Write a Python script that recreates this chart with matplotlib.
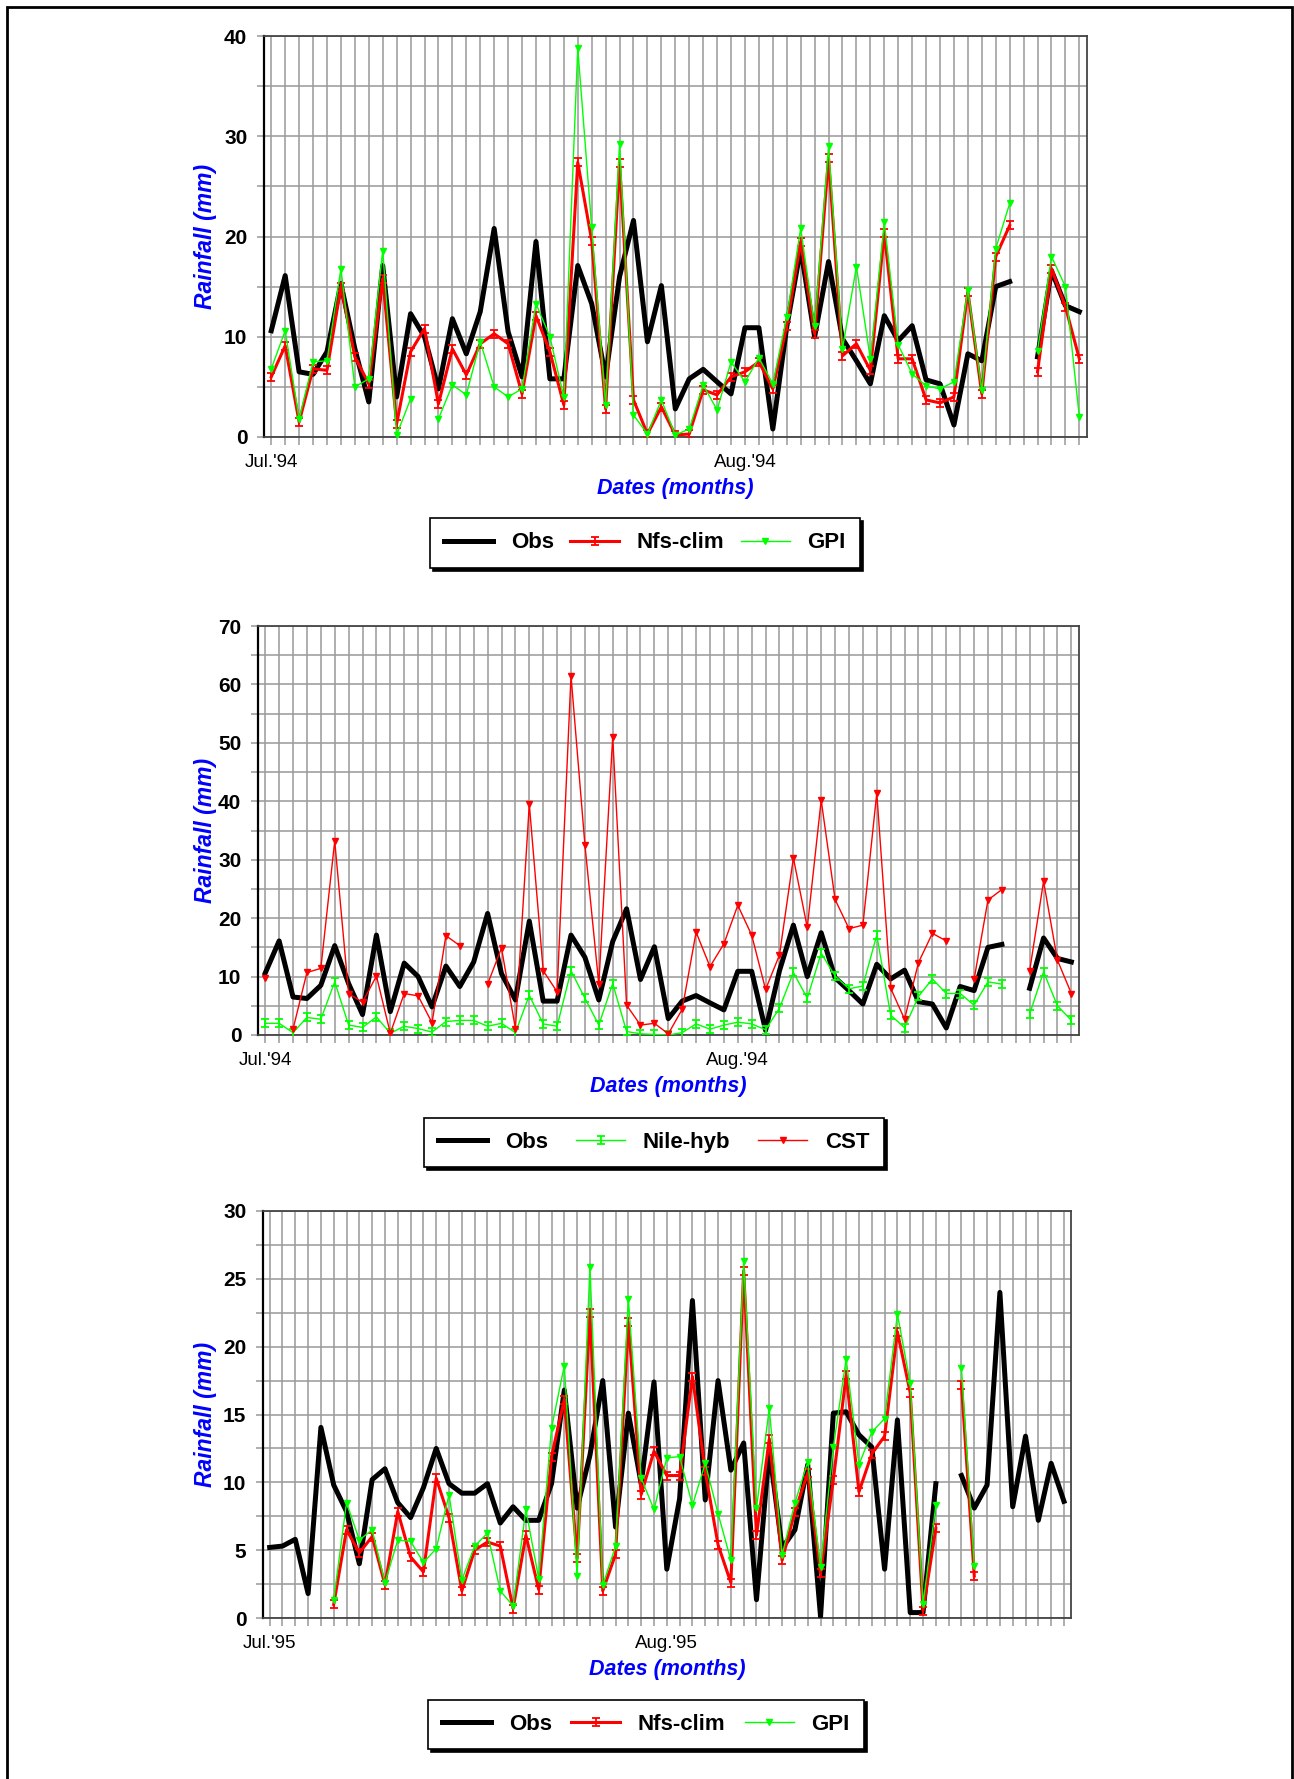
import numpy as np
import matplotlib
matplotlib.use('Agg')
import matplotlib.pyplot as plt
from matplotlib.path import Path
from matplotlib.patches import Rectangle
from matplotlib.ticker import MultipleLocator

nan = np.nan

# daily rainfall, July-August 1994 (59 days shown)
obs94 = [10.6, 16.1, 6.5, 6.25, 8.5, 15.3, 8.8, 3.5, 17.1, 4.0,
         12.3, 10.0, 4.8, 11.8, 8.3, 12.5, 20.8, 10.5, 6.0, 19.5,
         5.8, 5.8, 17.1, 13.3, 6.0, 16.0, 21.6, 9.5, 15.1, 2.8,
         5.8, 6.75, 5.5, 4.3, 10.9, 10.9, 0.8, 11.0, 18.8, 10.0,
         17.5, 9.8, 7.6, 5.3, 12.1, 9.6, 11.1, 5.7, 5.3, 1.2,
         8.3, 7.6, 15.0, 15.5, nan, 8.0, 16.6, 13.1, 12.5]
nfs94 = [6.0, 9.1, 1.5, 6.8, 6.65, 15.0, 8.0, 5.3, 15.8, 1.3,
         8.5, 10.8, 3.3, 8.8, 6.2, 9.3, 10.3, 9.3, 4.3, 12.1,
         8.5, 3.2, 27.4, 19.6, 2.8, 27.3, 3.7, 0.3, 3.0, 0.2,
         0.3, 4.7, 4.2, 6.0, 6.5, 7.5, 4.8, 11.1, 19.5, 10.3,
         27.8, 8.1, 9.3, 6.65, 20.3, 7.8, 7.8, 3.7, 3.4, 4.0,
         14.5, 4.3, 18.0, 21.1, nan, 6.5, 16.8, 13.0, 7.8]
gpi94 = [6.8, 10.6, 1.8, 7.5, 7.6, 16.8, 5.0, 5.8, 18.6, 0.2,
         3.8, nan, 1.8, 5.2, 4.2, 9.5, 5.0, 4.0, 4.8, 13.3,
         10.0, 4.0, 38.8, 20.9, 3.2, 29.2, 2.2, 0.3, 3.7, 0.2,
         0.8, 5.2, 2.7, 7.5, 5.5, 7.9, 5.3, 12.0, 20.8, 11.1,
         29.0, 8.8, 17.0, 7.8, 21.4, 9.2, 6.3, 5.1, 4.8, 5.5,
         14.7, 4.65, 18.8, 23.3, nan, 8.6, 18.0, 15.0, 2.0]
nile94 = [2.0, 2.0, 0.4, 3.0, 2.7, 9.1, 1.7, 1.3, 3.1, 0.3,
          1.5, 1.1, 0.5, 2.3, 2.5, 2.5, 1.5, 2.0, 0.4, 6.8,
          1.9, 1.5, 11.0, 6.3, 1.7, 8.8, 0.6, 0.2, 0.1, 0.0,
          0.4, 1.9, 1.0, 1.7, 2.2, 1.9, 0.9, 4.6, 10.7, 6.3,
          14.0, 10.1, 7.9, 8.4, 17.1, 3.4, 1.25, 6.6, 9.6, 7.1,
          7.1, 5.1, 9.1, 8.7, nan, 3.6, 10.8, 5.0, 2.5]
cst94 = [9.7, nan, 1.0, 10.7, 11.4, 33.2, 7.1, 5.6, 10.1, 0.3,
         7.1, 6.7, 2.1, 17.0, 15.3, nan, 8.7, 14.9, 1.1, 39.5,
         11.0, 7.4, 61.5, 32.6, 8.7, 51.0, 5.1, 1.7, 2.0, 0.2,
         4.4, 17.6, 11.7, 15.6, 22.2, 17.1, 7.8, 13.7, 30.3, 18.4,
         40.2, 23.2, 18.2, 18.8, 41.4, 8.0, 2.7, 12.4, 17.4, 16.1,
         nan, 9.5, 23.1, 24.9, nan, 11.0, 26.3, 12.8, 7.1]

# July-August 1995 (63 days shown)
obs95 = [5.2, 5.3, 5.8, 1.8, 14.05, 9.8, 7.85, 4.0, 10.2, 11.0,
         8.5, 7.4, 9.6, 12.5, 9.9, 9.2, 9.2, 9.9, 7.0, 8.2,
         7.2, 7.2, 9.9, 16.8, 8.1, 12.0, 17.5, 6.7, 15.1, 9.9,
         17.4, 3.6, 8.8, 23.4, 8.7, 17.5, 10.9, 12.9, 1.35, 12.4,
         5.15, 6.5, 11.3, 0.1, 15.1, 15.2, 13.5, 12.6, 3.6, 14.6,
         0.4, 0.4, 9.9, nan, 10.5, 8.1, 9.8, 24.0, 8.2, 13.4,
         7.2, 11.4, 8.6]
nfs95 = [nan] * 5 + [
    1.0, 6.5, 4.8, 6.0, 2.45, 7.85, 4.5, 3.4, 10.3, 7.4,
    2.0, 5.0, 5.6, 5.3, 0.7, 6.1, 2.1, 11.9, 16.1, 4.4,
    22.5, 2.0, 4.7, 21.8, 9.1, 12.3, 10.5, 10.5, 17.8, 10.8,
    5.4, 2.6, 25.6, 6.1, 13.2, 4.25, 7.85, 10.7, 3.3, 10.2,
    17.9, 9.3, 12.1, 13.4, 21.1, 16.6, 0.55, 6.6, nan, 17.2, 3.1] + [nan] * 7
gpi95 = [nan] * 5 + [
    1.35, 8.5, 5.75, 6.5, 2.6, 5.75, 5.65, 4.1, 5.1, 9.1,
    2.8, 5.3, 6.25, 2.0, 0.9, 8.0, 2.9, 14.0, 18.6, 3.1,
    25.9, 2.4, 5.3, 23.5, 10.3, 8.0, 11.8, 11.9, 8.3, 11.4,
    7.7, 4.25, 26.3, 8.1, 15.45, 4.66, 8.5, 11.5, 3.75, 12.6,
    19.1, 11.3, 13.7, 14.7, 22.4, 17.3, 1.05, 8.3, nan, 18.4, 3.85] + [nan] * 7

month_ticks94 = {0: "Jul.'94", 34: "Aug.'94"}
month_ticks95 = {0: "Jul.'95", 31: "Aug.'95"}

W, H = 1294, 1779
FONT = ['Liberation Sans', 'DejaVu Sans']
plt.rcParams['font.family'] = FONT

# I-beam marker used for the Nfs-clim and Nile-hyb series
ibeam = Path([(-1, 1), (1, 1), (0, 1), (0, -1), (-1, -1), (1, -1)],
             [Path.MOVETO, Path.LINETO, Path.MOVETO, Path.LINETO,
              Path.MOVETO, Path.LINETO])

STYLES = {
    'Obs': dict(color='black', lw=3.6, zorder=3),
    'Nfs-clim': dict(color='#ff0000', lw=2.2, marker=ibeam, ms=6, mew=1.3,
                     mfc='none', zorder=4),
    'GPI': dict(color='#00ff00', lw=1.0, marker='v', ms=5, zorder=5),
    'Nile-hyb': dict(color='#00ff00', lw=1.0, marker=ibeam, ms=6, mew=1.3,
                     mfc='none', zorder=4),
    'CST': dict(color='#ff0000', lw=1.0, marker='v', ms=5, zorder=5),
}


def add_panel(fig, box, series, ymax, ylab_step, ygrid_step, ticks,
              legend_box):
    l, t, r, b = box
    ax = fig.add_axes([l / W, 1 - b / H, (r - l) / W, (b - t) / H])
    n = len(series[0][1])
    x = np.arange(n)
    handles = []
    for name, vals in series:
        line, = ax.plot(x, np.array(vals, dtype=float), label=name,
                        **STYLES[name])
        handles.append(line)

    ax.set_xlim(-0.52, n - 1 + 0.55)
    ax.set_ylim(0, ymax)
    ax.set_xticks(x)
    ax.set_xticklabels([ticks.get(i, '') for i in x], fontsize=13.5)
    ax.yaxis.set_major_locator(MultipleLocator(ylab_step))
    ax.yaxis.set_minor_locator(MultipleLocator(ygrid_step))
    for lab in ax.get_yticklabels():
        lab.set_fontweight('bold')
        lab.set_fontsize(15)
    ax.tick_params(axis='x', length=6, width=1.1, color='#999999', pad=6)
    ax.tick_params(axis='y', which='both', length=5, width=1.1,
                   color='#999999', pad=7)
    ax.set_axisbelow(True)
    ax.grid(True, which='both', color='#999999', lw=1.1)
    for side in ['top', 'right', 'bottom']:
        ax.spines[side].set_color('#444444')
        ax.spines[side].set_linewidth(1.3)
    ax.spines['left'].set_color('black')
    ax.spines['left'].set_linewidth(1.6)

    ax.set_ylabel('Rainfall (mm)', color='#0000ff', fontsize=16.5,
                  fontweight='bold', fontstyle='italic')
    ax.yaxis.set_label_coords((217 - l) / (r - l), 0.5)
    ax.set_xlabel('Dates (months)', color='#0000ff', fontsize=15.5,
                  fontweight='bold', fontstyle='italic')
    ax.xaxis.set_label_coords(0.5, -(41) / (b - t))

    x0, y0, x1, y1 = legend_box
    leg = fig.legend(handles, [h.get_label() for h in handles],
                     loc='center', mode='expand', ncol=3,
                     bbox_to_anchor=(x0 / W, 1 - y1 / H,
                                     (x1 - x0) / W, (y1 - y0) / H),
                     prop={'weight': 'bold', 'size': 16},
                     frameon=True, fancybox=False, framealpha=1,
                     edgecolor='black', numpoints=1, handlelength=2.2,
                     borderpad=0.65, borderaxespad=0,
                     shadow={'color': 'black', 'alpha': 1})
    leg.get_frame().set_linewidth(1.2)
    return ax


fig = plt.figure(figsize=(W / 100, H / 100), dpi=100)

add_panel(fig, (264, 36, 1087, 437),
          [('Obs', obs94), ('Nfs-clim', nfs94), ('GPI', gpi94)],
          40, 10, 5, month_ticks94, (430, 513, 860, 573))
add_panel(fig, (258, 626, 1079, 1035),
          [('Obs', obs94), ('Nile-hyb', nile94), ('CST', cst94)],
          70, 10, 5, month_ticks94, (424, 1113, 884, 1172))
add_panel(fig, (263, 1211, 1071, 1618),
          [('Obs', obs95), ('Nfs-clim', nfs95), ('GPI', gpi95)],
          30, 5, 2.5, month_ticks95, (428, 1695, 864, 1754))

# page frame
fig.add_artist(Rectangle((6.5 / W, -0.01), (1292 - 6.5) / W, 1 - 7 / H + 0.01,
                         transform=fig.transFigure, fill=False,
                         ec='black', lw=2))

plt.savefig('out.png', dpi=100)
